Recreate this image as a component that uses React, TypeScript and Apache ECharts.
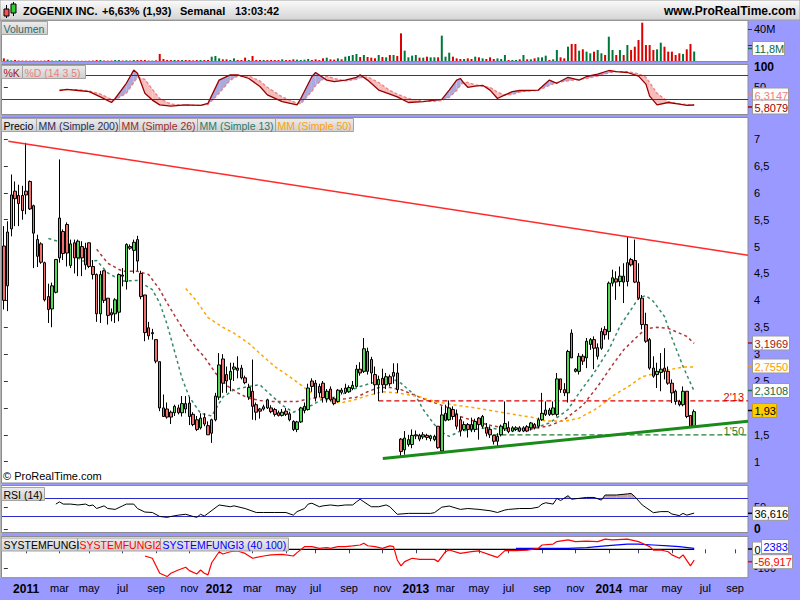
import React, { useEffect, useRef } from 'react';
import * as echarts from 'echarts';

const FONT = '"Liberation Sans", Arial, Helvetica, sans-serif';
const START = Date.UTC(2010, 10, 22);
const WEEK = 7 * 86400000;
const N_CAT = 201;
const MONTHS = ['ene', 'feb', 'mar', 'abr', 'may', 'jun', 'jul', 'ago', 'sep', 'oct', 'nov', 'dic'];

// weekly candles: [open, close, low, high]
const candles: number[][] = [
  [5.01, 4.0, 3.83, 5.38], [4.27, 5.27, 3.8, 5.47], [5.33, 5.96, 5.19, 6.34], [6.03, 5.89, 5.38, 6.21], [5.95, 5.8, 5.38, 6.15],
  [5.95, 5.67, 5.5, 6.13], [6.03, 5.96, 5.6, 6.93], [6.21, 5.7, 5.68, 6.23], [5.76, 5.25, 4.6, 5.78], [5.13, 4.82, 4.62, 5.22],
  [5.05, 4.71, 4.68, 5.08], [4.7, 4.01, 3.98, 4.72], [4.07, 3.83, 3.58, 4.31], [3.84, 4.27, 3.5, 4.33], [4.15, 4.76, 4.13, 4.77],
  [4.79, 5.53, 4.7, 6.62], [5.28, 4.87, 4.75, 5.32], [5.41, 4.88, 4.63, 5.45], [4.65, 5.05, 4.6, 5.13], [5.07, 4.79, 4.5, 5.13],
  [4.79, 5.1, 4.45, 5.13], [5.0, 4.79, 4.45, 5.1], [4.66, 4.97, 4.57, 5.07], [5.07, 4.63, 4.6, 5.07], [4.63, 4.48, 4.39, 4.75],
  [4.48, 3.75, 3.6, 4.5], [3.75, 4.48, 3.58, 4.55], [4.55, 4.0, 3.95, 4.57], [4.04, 3.72, 3.55, 4.04], [3.77, 3.73, 3.61, 3.85],
  [3.75, 4.01, 3.58, 4.04], [3.78, 4.48, 3.61, 4.5], [4.47, 4.45, 4.26, 4.6], [4.35, 5.04, 4.2, 5.06], [5.0, 4.97, 4.94, 5.04],
  [4.93, 5.08, 4.5, 5.13], [5.13, 4.73, 4.55, 5.2], [4.5, 4.07, 4.02, 4.55], [4.1, 3.4, 3.24, 4.1], [3.49, 3.34, 3.27, 3.6],
  [3.38, 3.4, 3.27, 3.47], [3.27, 2.87, 2.83, 3.27], [2.86, 2.0, 1.94, 2.86], [2.0, 1.84, 1.84, 2.25], [1.98, 1.83, 1.8, 2.1],
  [1.92, 1.83, 1.7, 1.95], [1.91, 2.03, 1.85, 2.06], [2.0, 1.91, 1.88, 2.06], [1.91, 2.08, 1.84, 2.22], [2.08, 1.98, 1.9, 2.22],
  [2.09, 1.84, 1.68, 2.2], [1.88, 1.69, 1.66, 1.92], [1.78, 1.6, 1.57, 1.85], [1.63, 1.81, 1.6, 1.9], [1.82, 1.7, 1.66, 1.9],
  [1.67, 1.5, 1.5, 1.75], [1.53, 1.78, 1.35, 1.8], [1.78, 2.22, 1.75, 2.28], [2.2, 2.8, 2.15, 3.02], [2.91, 2.46, 2.28, 3.0],
  [2.62, 2.5, 2.28, 2.77], [2.53, 2.68, 2.31, 2.84], [2.72, 2.76, 2.5, 2.84], [2.74, 2.7, 2.55, 2.96], [2.74, 2.56, 2.53, 2.8],
  [2.56, 2.47, 2.44, 2.6], [2.2, 2.38, 2.15, 2.45], [2.31, 2.03, 1.78, 2.9], [2.06, 1.92, 1.77, 2.1], [1.98, 1.94, 1.8, 2.0],
  [1.98, 2.02, 1.95, 2.06], [2.15, 2.0, 1.98, 2.17], [2.0, 1.93, 1.9, 2.05], [1.97, 1.88, 1.84, 2.0], [1.91, 1.86, 1.84, 1.95],
  [1.86, 1.92, 1.84, 1.98], [1.94, 1.88, 1.85, 2.0], [1.89, 1.78, 1.75, 1.93], [1.75, 1.6, 1.57, 1.77], [1.6, 1.74, 1.55, 1.76],
  [1.74, 2.0, 1.72, 2.02], [1.95, 2.03, 1.9, 2.1], [1.97, 2.37, 1.95, 2.45], [2.5, 2.4, 2.3, 2.55], [2.46, 2.19, 2.12, 2.52],
  [2.4, 2.28, 2.2, 2.45], [2.46, 2.19, 2.1, 2.5], [2.17, 2.31, 2.1, 2.35], [2.35, 2.15, 2.12, 2.4], [2.17, 2.08, 2.05, 2.2],
  [2.12, 2.33, 2.1, 2.35], [2.33, 2.29, 2.25, 2.37], [2.29, 2.37, 2.26, 2.45], [2.3, 2.38, 2.28, 2.42], [2.36, 2.42, 2.33, 2.5],
  [2.4, 2.72, 2.38, 2.8], [2.72, 2.65, 2.6, 2.85], [2.68, 3.1, 2.65, 3.3], [3.05, 2.68, 2.62, 3.12], [2.9, 2.65, 2.45, 2.95],
  [2.62, 2.43, 2.25, 2.77], [2.43, 2.53, 2.13, 2.6], [2.55, 2.43, 2.28, 2.73], [2.43, 2.58, 2.35, 2.65], [2.58, 2.45, 2.4, 2.62],
  [2.59, 2.66, 2.45, 2.83], [2.65, 2.34, 2.28, 2.83], [1.42, 1.19, 1.07, 1.44], [1.22, 1.44, 1.13, 1.57], [1.32, 1.41, 1.28, 1.5],
  [1.32, 1.49, 1.25, 1.6], [1.48, 1.5, 1.42, 1.58], [1.49, 1.42, 1.38, 1.52], [1.46, 1.5, 1.42, 1.55], [1.49, 1.45, 1.4, 1.52],
  [1.43, 1.48, 1.38, 1.5], [1.41, 1.47, 1.38, 1.5], [1.66, 1.26, 1.24, 1.66], [1.2, 1.87, 1.17, 2.03], [1.77, 1.9, 1.75, 2.06],
  [1.78, 2.0, 1.76, 2.14], [1.97, 1.84, 1.78, 2.03], [1.88, 1.66, 1.6, 1.97], [1.78, 1.57, 1.47, 1.84], [1.6, 1.69, 1.57, 1.75],
  [1.69, 1.6, 1.45, 1.72], [1.69, 1.6, 1.55, 1.82], [1.6, 1.75, 1.55, 1.8], [1.81, 1.69, 1.41, 1.83], [1.66, 1.84, 1.62, 1.87],
  [1.64, 1.53, 1.47, 1.72], [1.6, 1.5, 1.44, 1.66], [1.49, 1.38, 1.32, 1.5], [1.38, 1.47, 1.28, 1.53], [1.5, 1.66, 1.47, 1.69],
  [1.61, 1.71, 1.57, 2.12], [1.63, 1.56, 1.53, 1.75], [1.57, 1.63, 1.55, 1.66], [1.6, 1.63, 1.57, 1.66], [1.63, 1.57, 1.55, 1.66],
  [1.57, 1.63, 1.55, 1.66], [1.65, 1.57, 1.55, 1.68], [1.63, 1.72, 1.58, 1.74], [1.69, 1.63, 1.6, 1.72], [1.66, 1.78, 1.62, 1.82],
  [1.78, 1.9, 1.76, 2.28], [1.88, 1.96, 1.85, 2.12], [1.96, 1.88, 1.85, 2.0], [1.88, 2.0, 1.86, 2.12], [1.88, 2.54, 1.84, 2.65],
  [2.54, 2.34, 2.28, 2.54], [2.34, 2.28, 2.22, 2.46], [2.28, 3.05, 2.1, 3.08], [3.39, 2.93, 2.93, 3.46], [2.72, 2.68, 2.66, 2.74],
  [2.68, 2.96, 2.62, 3.02], [2.96, 2.87, 2.8, 3.0], [2.93, 3.24, 2.74, 3.3], [3.18, 3.27, 3.08, 3.3], [3.27, 3.11, 2.72, 3.33],
  [2.96, 3.12, 2.9, 3.2], [3.11, 3.42, 3.08, 3.49], [3.46, 3.36, 3.27, 3.52], [3.42, 4.32, 3.27, 4.35], [4.32, 4.42, 4.26, 4.57],
  [4.4, 4.34, 4.01, 4.54], [4.35, 4.45, 4.26, 4.63], [4.45, 4.34, 3.95, 4.69], [4.35, 4.7, 4.26, 5.19], [4.76, 4.66, 4.63, 4.79],
  [4.74, 4.34, 4.32, 5.13], [4.34, 4.04, 4.01, 4.69], [4.04, 3.55, 3.46, 4.1], [3.55, 3.24, 3.21, 3.77], [3.27, 2.74, 2.71, 3.3],
  [2.74, 2.59, 2.56, 2.96], [2.62, 2.68, 2.37, 2.84], [2.66, 2.72, 2.31, 3.02], [2.74, 2.68, 2.53, 3.11], [2.68, 2.46, 2.43, 2.77],
  [2.46, 2.28, 2.09, 2.53], [2.31, 2.12, 2.06, 2.34], [2.12, 2.06, 2.03, 2.15], [2.06, 2.31, 2.03, 2.4], [2.31, 1.84, 1.81, 2.31],
  [1.86, 1.66, 1.65, 1.86], [1.66, 1.93, 1.65, 1.97],
];

// weekly volume, millions
const volumes: number[] = [
  3.3, 2.0, 0.8, 1.2, 0.6, 0.5, 0.5, 0.4, 0.6, 0.4, 0.4, 0.6, 1.2, 0.6, 0.4, 1.2, 0.6, 0.5, 0.4, 0.4,
  0.4, 0.3, 0.3, 0.4, 0.6, 1.2, 1.2, 0.6, 0.5, 0.6, 1.2, 1.2, 0.6, 0.8, 0.5, 1.2, 1.2, 1.2, 1.3, 0.6,
  0.5, 0.8, 8.8, 2.5, 1.3, 1.2, 1.3, 1.2, 1.2, 1.3, 1.2, 0.8, 1.2, 1.3, 1.2, 1.3, 5.4, 6.3, 3.3, 2.1,
  2.1, 1.3, 3.3, 1.3, 1.3, 4.2, 1.3, 6.3, 1.3, 1.3, 1.3, 1.2, 1.3, 1.2, 1.2, 2.1, 1.2, 1.3, 2.1, 1.7,
  1.3, 1.7, 2.5, 1.3, 2.1, 1.2, 3.3, 4.2, 2.1, 1.7, 3.3, 2.1, 5.4, 6.3, 7.5, 8.8, 5.0, 7.5, 5.0, 4.2,
  3.3, 7.5, 5.0, 4.6, 7.5, 7.5, 6.3, 34.6, 12.9, 4.6, 6.7, 7.5, 4.2, 4.2, 5.4, 4.6, 4.6, 4.6, 31.7, 5.4,
  10.4, 5.4, 3.3, 2.5, 2.5, 3.3, 2.5, 5.4, 4.6, 3.3, 2.5, 4.6, 2.5, 3.3, 2.5, 7.5, 1.3, 1.3, 1.3, 2.1,
  7.5, 2.1, 2.1, 3.3, 4.6, 4.6, 6.7, 1.3, 2.1, 13.8, 4.6, 3.3, 17.9, 21.3, 21.3, 12.9, 14.6, 11.7, 9.6, 11.7,
  13.8, 9.6, 7.5, 30.4, 13.8, 7.5, 13.8, 7.5, 20, 13.8, 17.9, 26.3, 47.9, 20, 20, 13.8, 14.6, 22.9, 17.9, 11.7,
  11.7, 7.5, 9.6, 8.8, 14.6, 21.3, 11.8,
];

// moving averages (week index, price)
const ma13Idx = [12, 16, 21, 25, 28, 32, 36, 40, 42, 44, 46, 48, 50, 53, 56, 59, 62, 66, 69, 71, 75, 78, 80, 83, 86, 89, 92, 96, 99, 102, 105, 107, 111, 113, 116, 118, 120, 123, 127, 130, 134, 138, 142, 147, 152, 155, 159, 163, 166, 169, 171, 173, 175, 178, 180, 183, 186];
const ma13Val = [5.15, 5.07, 4.73, 4.74, 4.51, 4.36, 4.37, 4.2, 3.95, 3.55, 3.05, 2.55, 2.2, 1.9, 1.85, 2.2, 2.34, 2.4, 2.43, 2.3, 2.05, 1.92, 1.98, 2.05, 2.17, 2.2, 2.28, 2.4, 2.46, 2.52, 2.53, 2.46, 2.22, 1.97, 1.69, 1.55, 1.47, 1.57, 1.6, 1.63, 1.6, 1.57, 1.6, 1.72, 1.97, 2.28, 2.65, 3.08, 3.52, 3.83, 4.04, 4.09, 3.98, 3.7, 3.3, 2.77, 2.31];
const ma26Idx = [25, 28, 32, 36, 39, 42, 44, 46, 49, 52, 54, 57, 60, 63, 66, 69, 72, 76, 79, 81, 85, 88, 92, 95, 98, 101, 104, 107, 112, 115, 120, 123, 127, 132, 138, 143, 147, 151, 156, 160, 164, 167, 171, 173, 176, 179, 181, 184, 186];
const ma26Val = [4.95, 4.69, 4.54, 4.54, 4.48, 4.2, 3.95, 3.72, 3.39, 3.1, 2.95, 2.65, 2.42, 2.28, 2.18, 2.14, 2.12, 2.12, 2.12, 2.15, 2.2, 2.15, 2.17, 2.2, 2.3, 2.38, 2.38, 2.34, 2.2, 2.12, 2.0, 1.84, 1.75, 1.66, 1.6, 1.62, 1.67, 1.78, 2.05, 2.4, 2.8, 3.08, 3.35, 3.47, 3.5, 3.48, 3.42, 3.33, 3.2];
const ma50Idx = [49, 52, 55, 59, 62, 66, 70, 73, 77, 80, 84, 88, 91, 94, 98, 102, 106, 112, 116, 121, 127, 132, 138, 142, 146, 151, 155, 160, 164, 169, 172, 176, 180, 183, 186];
const ma50Val = [4.22, 3.98, 3.68, 3.5, 3.39, 3.2, 2.95, 2.77, 2.58, 2.43, 2.22, 2.12, 2.1, 2.14, 2.23, 2.3, 2.28, 2.21, 2.12, 2.06, 2.0, 1.94, 1.87, 1.83, 1.76, 1.75, 1.81, 2.0, 2.22, 2.43, 2.58, 2.65, 2.72, 2.76, 2.76];

// drawn lines (week index, price)
const resistIdx = [1.2, 200.5];
const resistVal = [6.96, 4.84];
const supportIdx = [102.1, 200.5];
const supportVal = [1.06, 1.75];
const level213Idx = [100.9, 200.5];
const level213Val = [2.13, 2.13];
const level150Idx = [131.9, 200.5];
const level150Val = [1.5, 1.5];

// stochastic %K / %D (14 3 5)
const stochIdx = [15, 17, 20, 23, 26, 29, 30, 33, 35, 36, 38, 40, 42, 45, 49, 53, 55, 58, 61, 63, 66, 69, 71, 75, 79, 80, 83, 84, 87, 89, 92, 95, 96, 98, 101, 104, 106, 109, 113, 116, 118, 120, 122, 123, 124, 125, 127, 129, 131, 133, 135, 137, 139, 141, 144, 147, 149, 152, 155, 157, 160, 163, 165, 168, 171, 173, 174, 176, 179, 182, 184, 186];
const stochK = [42, 45, 42, 39, 26, 12, 22, 60, 93, 85, 35, 18, 6, 3, 6, 5, 10, 68, 81, 81, 72, 52, 31, 14, 6, 22, 77, 87, 68, 64, 68, 75, 81, 68, 43, 33, 26, 12, 14, 18, 20, 43, 68, 72, 60, 50, 53, 55, 43, 22, 31, 39, 42, 42, 43, 68, 60, 75, 68, 77, 83, 92, 89, 87, 78, 58, 28, 6, 12, 8, 5, 5.8];
const stochD = [43, 44, 44, 41, 33, 20, 19, 35, 62, 75, 70, 45, 22, 8, 5, 5, 7, 35, 68, 78, 78, 66, 50, 26, 10, 9, 40, 55, 78, 72, 66, 70, 74, 76, 62, 42, 33, 22, 15, 15, 17, 25, 42, 55, 63, 62, 56, 53, 50, 38, 30, 32, 38, 41, 42, 55, 62, 66, 70, 72, 78, 86, 89, 89, 84, 75, 62, 35, 14, 9, 7, 6.3];

// RSI (14)
const rsiIdx = [14, 15, 16, 18, 20, 22, 23, 24, 25, 27, 28, 30, 32, 33, 35, 36, 38, 40, 42, 44, 45, 47, 49, 51, 52, 53, 54, 55, 58, 61, 62, 65, 68, 70, 73, 76, 78, 79, 81, 82, 83, 85, 86, 88, 90, 92, 94, 95, 96, 97, 99, 101, 103, 104, 106, 109, 115, 116, 118, 120, 123, 125, 128, 131, 133, 135, 136, 139, 142, 144, 145, 146, 148, 149, 150, 152, 153, 155, 157, 159, 161, 162, 165, 168, 169, 170, 172, 175, 177, 179, 180, 182, 183, 184, 186];
const rsiVal = [57, 62, 57, 57, 55, 57, 53, 55, 47, 53, 47, 45, 53, 57, 57, 47, 39, 38, 29, 27, 29, 32, 34, 29, 27, 34, 30, 36, 55, 51, 53, 47, 38, 38, 38, 38, 32, 40, 47, 57, 59, 51, 53, 55, 53, 55, 55, 62, 68, 62, 51, 51, 55, 51, 34, 36, 36, 37.6, 50, 52.6, 45, 47, 45, 42, 38, 43.6, 45, 47, 47, 50, 57, 60, 57, 70, 65, 76, 68, 70, 72, 72, 66, 77.5, 77.5, 80, 81, 74, 55, 37.6, 40, 40, 34.5, 31, 36, 32, 36.6];

// SYSTEMFUNGI indicators
const fungiIdx = [76, 186];
const fungiVal = [0, 0];
const fungi2Idx = [38, 40, 42, 44, 45, 47, 49, 50, 52, 53, 54, 55, 56, 58, 59, 61, 63, 65, 67, 70, 72, 75, 78, 79, 81, 83, 85, 87, 88, 90, 92, 94, 96, 97, 98, 100, 102, 104, 105, 106, 107, 108, 110, 112, 116, 117, 119, 120, 123, 126, 128, 131, 133, 135, 138, 141, 144, 145, 148, 149, 152, 154, 157, 160, 162, 164, 168, 171, 172, 174, 175, 177, 179, 180, 182, 183, 185, 186];
const fungi2Val = [-36, -48, -128, -146, -128, -111, -96, -114, -132, -111, -128, -137, -72, -13, -25, -13, -9, -22, -48, -36, -30, -27, -36, -18, 14, 14, 5, 9, 5, 14, 14, 18, 23, 32, 19, 14, 5, 18, 14, -57, -89, -66, -48, -54, -54, -66, -13, -4, -22, -13, -9, -30, -43, -7, -7, -4, 5, 23, 28, 41, 50, 41, 44, 41, 54, 50, 54, 41, 32, 14, -4, -4, -13, -30, -48, -30, -89, -57];
const fungi3Idx = [138, 144, 152, 157, 162, 168, 171, 175, 179, 182, 186];
const fungi3Val = [5, 5, 5, 9, 18, 28, 28, 23, 18, 14, 5];

// axis tick values (labels fully hidden under the value boxes are left out)
const volTicks = [20, 40];
const stochTicks = [50, 100];
const priceTicks = [1, 1.5, 2, 2.5, 3, 3.5, 4, 4.5, 5, 5.5, 6, 6.5, 7];
const priceLabels = [1, 1.5, 2.5, 3, 3.5, 4, 4.5, 5, 5.5, 6, 6.5, 7];
const rsiTicks = [0, 50];
const fungiTicks = [-100];

// texts
const TITLE_PARTS = [
  { x: 23, text: 'ZOGENIX INC.' },
  { x: 102, text: '+6,63% (1,93)' },
  { x: 180, text: 'Semanal' },
  { x: 235, text: '13:03:42' },
];
const SITE = 'www.ProRealTime.com';

const valueBoxes = [
  { x: 752.5, cy: 48.5, text: '11,8M', color: '#0b6b4b', w: 32 },
  { x: 752.5, cy: 95, text: '6,3147', color: '#f07f7f', w: 36 },
  { x: 752.5, cy: 107, text: '5,8079', color: '#a00000', w: 36 },
  { x: 752.5, cy: 343, text: '3,1969', color: '#a01818', w: 37 },
  { x: 752.5, cy: 366, text: '2,7550', color: '#ff9900', w: 37 },
  { x: 752.5, cy: 390.5, text: '2,3108', color: '#1a6a4a', w: 37 },
  { x: 752.5, cy: 410.5, text: '1,93', color: '#000000', w: 24, bg: '#ffcc00', border: '#c9a000' },
  { x: 752.5, cy: 513.3, text: '36,616', color: '#000000', w: 36 },
  { x: 761.5, cy: 546.5, text: '2383', color: '#0000ff', w: 27 },
  { x: 752.5, cy: 549, text: '0', color: '#000000', w: 9 },
  { x: 752.5, cy: 561.7, text: '-56,917', color: '#ff0000', w: 40 },
];

const legendRows = [
  { y: 21, items: [{ x: 1, w: 46, text: 'Volumen', color: '#2a6a6a' }] },
  { y: 65, items: [{ x: 1, w: 21, text: '%K', color: '#a01818' }, { x: 22, w: 63, text: '%D (14 3 5)', color: '#ee7f7f' }] },
  {
    y: 118, items: [
      { x: 1, w: 35, text: 'Precio', color: '#000000' },
      { x: 36, w: 83, text: 'MM (Simple 200)', color: '#2a2a5a' },
      { x: 119, w: 78, text: 'MM (Simple 26)', color: '#9a2a2a' },
      { x: 197, w: 78, text: 'MM (Simple 13)', color: '#2a7a6a' },
      { x: 275, w: 78, text: 'MM (Simple 50)', color: '#ffa010' },
    ],
  },
  { y: 487, items: [{ x: 1, w: 43, text: 'RSI (14)', color: '#000000' }] },
  {
    y: 537.5, items: [
      { x: 1, w: 76, text: 'SYSTEMFUNGI', color: '#000000' },
      { x: 77, w: 83, text: 'SYSTEMFUNGI2', color: '#ff0000' },
      { x: 160, w: 128, text: 'SYSTEMFUNGI3 (40 100)', color: '#0000ff' },
    ],
  },
];

const PANELS = [
  { top: 21, height: 40, ry: 20.5, rh: 41 },
  { top: 64.5, height: 50, ry: 64.5, rh: 50 },
  { top: 117.5, height: 365.5, ry: 117.5, rh: 365.5 },
  { top: 485.5, height: 47, ry: 485.5, rh: 47 },
  { top: 536.5, height: 41.2, ry: 536.5, rh: 41.2 },
];

const UP = '#55d855';
const DOWN = '#f07070';
const VOL_UP = '#00783a';
const VOL_DOWN = '#dd0000';
const BLUE = '#2a2ac8';

function buildOption() {
  const dates = Array.from({ length: N_CAT }, (_, i) => new Date(START + i * WEEK));
  const categories = dates.map((d) => d.toISOString().slice(0, 10));
  const labelFlags = dates.map(
    (d, i) => i > 0 && d.getUTCMonth() !== dates[i - 1].getUTCMonth() && d.getUTCMonth() % 2 === 0
  );
  const showAt = (index: number) => !!labelFlags[index];

  const grid = PANELS.map((p) => ({ left: 2, right: 52, top: p.top, height: p.height }));

  const catAxis = (gridIndex: number, visible: boolean) => ({
    type: 'category',
    gridIndex,
    data: categories,
    boundaryGap: true,
    show: visible,
    axisLine: { show: false },
    splitLine: { show: false },
    axisTick: visible
      ? { show: true, interval: showAt, alignWithLabel: true, length: 4, lineStyle: { color: '#404060' } }
      : { show: false },
    axisLabel: visible
      ? {
          show: true,
          interval: showAt,
          margin: 5,
          formatter: (value: string) => {
            const [y, m] = value.split('-').map(Number);
            return m === 1 ? `{y|${y}}` : `{m|${MONTHS[m - 1]}}`;
          },
          rich: {
            y: { fontWeight: 'bold', fontSize: 12, color: '#000', fontFamily: FONT },
            m: { fontSize: 11, color: '#000', fontFamily: FONT },
          },
        }
      : { show: false },
  });
  const valAxis = (gridIndex: number) => ({
    type: 'value', gridIndex, min: -0.5, max: N_CAT - 0.5, show: false, splitLine: { show: false },
  });

  const xAxis = [
    catAxis(0, false), // 0 volume bars
    valAxis(1), // 1 stoch
    catAxis(2, false), // 2 candles
    valAxis(2), // 3 price lines
    valAxis(3), // 4 rsi
    catAxis(4, true), // 5 date labels
    valAxis(4), // 6 fungi lines
  ];

  const yAx = (
    gridIndex: number, min: number, max: number, ticks: number[], labels: number[],
    fmt: (v: number) => string, rich?: any
  ) => ({
    type: 'value',
    gridIndex,
    position: 'right',
    min,
    max,
    splitLine: { show: false },
    axisLine: { show: false },
    axisTick: { show: true, length: 4, customValues: ticks, lineStyle: { color: '#333' } },
    axisLabel: {
      show: true, customValues: labels, formatter: fmt, color: '#000', fontSize: 11, margin: 6, fontFamily: FONT,
      rich: rich || {},
    },
  });
  const comma = (v: number) => String(v).replace('.', ',');
  const boldRich = { b: { fontWeight: 'bold', fontSize: 12, color: '#000', fontFamily: FONT } };
  const yAxis = [
    yAx(0, 0, 50, volTicks, volTicks, (v) => `${v}M`),
    yAx(1, -18, 107, stochTicks, stochTicks, (v) => (v === 100 ? '{b|100}' : comma(v)), boldRich),
    yAx(2, 0.604, 7.4, priceTicks, priceLabels, comma),
    yAx(3, -7.2, 99, rsiTicks, rsiTicks, (v) => (v === 0 ? '{b|0}' : comma(v)), boldRich),
    yAx(4, -152, 68.4, fungiTicks, fungiTicks, comma),
  ];

  const lineS = (xi: number, yi: number, idx: number[], val: number[], color: string, width: number, type: any = 'solid', z = 3) => ({
    type: 'line', xAxisIndex: xi, yAxisIndex: yi, data: idx.map((x, k) => [x, val[k]]),
    symbol: 'none', silent: true, z, lineStyle: { color, width, type },
  });

  const stochSegs = stochIdx.slice(0, -1).map((x, k) => [x, stochK[k], stochD[k], stochIdx[k + 1], stochK[k + 1], stochD[k + 1]]);
  const rsiSegs = rsiIdx.slice(0, -1).map((x, k) => [x, rsiVal[k], rsiIdx[k + 1], rsiVal[k + 1]]);

  const series: any[] = [
    {
      type: 'bar', xAxisIndex: 0, yAxisIndex: 0, barWidth: 2, silent: true,
      data: volumes.map((v, i) => ({
        value: v,
        itemStyle: { color: candles[i][1] >= candles[i][0] ? VOL_UP : VOL_DOWN },
      })),
    },
    {
      type: 'custom', xAxisIndex: 1, yAxisIndex: 1, silent: true, z: 2,
      data: stochSegs,
      encode: { x: [0, 3], y: [1, 2, 4, 5] },
      renderItem: (_p: any, api: any) => {
        const x0 = api.value(0), k0 = api.value(1), d0 = api.value(2);
        const x1 = api.value(3), k1 = api.value(4), d1 = api.value(5);
        const P = (x: number, y: number) => api.coord([x, y]);
        const poly = (pts: any[], up: boolean) => ({
          type: 'polygon', shape: { points: pts }, style: { fill: up ? '#aaaadf' : '#f6bcbc' },
        });
        const a = k0 - d0, b = k1 - d1;
        if (a * b < 0) {
          const t = a / (a - b);
          const xc = x0 + t * (x1 - x0), yc = k0 + t * (k1 - k0);
          return {
            type: 'group',
            children: [poly([P(x0, k0), P(xc, yc), P(x0, d0)], a > 0), poly([P(xc, yc), P(x1, k1), P(x1, d1)], b > 0)],
          };
        }
        return { type: 'group', children: [poly([P(x0, k0), P(x1, k1), P(x1, d1), P(x0, d0)], a + b > 0)] };
      },
    },
    {
      ...lineS(1, 1, stochIdx, stochD, '#ee8080', 1.3, [3, 2], 4),
    },
    {
      ...lineS(1, 1, stochIdx, stochK, '#990000', 1.3, 'solid', 5),
      markLine: {
        silent: true, symbol: 'none', label: { show: false },
        lineStyle: { color: BLUE, type: 'solid', width: 1 },
        data: [{ yAxis: 80 }, { yAxis: 20 }],
      },
    },
    {
      type: 'candlestick', xAxisIndex: 2, yAxisIndex: 2, data: candles, barWidth: 3, silent: true, z: 4,
      itemStyle: { color: UP, color0: DOWN, borderColor: '#000', borderColor0: '#000', borderWidth: 1 },
    },
    lineS(3, 2, ma13Idx, ma13Val, '#3a8a6a', 1.5, [3, 3], 3),
    lineS(3, 2, ma26Idx, ma26Val, '#b03838', 1.5, [3, 3], 3),
    lineS(3, 2, ma50Idx, ma50Val, '#ffa500', 1.5, [3, 3], 3),
    lineS(3, 2, level213Idx, level213Val, '#e00000', 1.2, [5, 3], 3),
    lineS(3, 2, level150Idx, level150Val, '#1f7f2f', 1.2, [5, 3], 3),
    lineS(3, 2, resistIdx, resistVal, '#ff2a2a', 1.5, 'solid', 6),
    lineS(3, 2, supportIdx, supportVal, '#1a8a1a', 3, 'solid', 6),
    {
      type: 'custom', xAxisIndex: 4, yAxisIndex: 3, silent: true, z: 2,
      data: rsiSegs,
      encode: { x: [0, 2], y: [1, 3] },
      renderItem: (_p: any, api: any) => {
        const x0 = api.value(0), v0 = api.value(1), x1 = api.value(2), v1 = api.value(3);
        const T = 70;
        if (v0 <= T && v1 <= T) return { type: 'group', children: [] };
        let pts: number[][];
        if (v0 >= T && v1 >= T) pts = [[x0, T], [x0, v0], [x1, v1], [x1, T]];
        else {
          const t = (T - v0) / (v1 - v0);
          const xc = x0 + t * (x1 - x0);
          pts = v0 > T ? [[x0, T], [x0, v0], [xc, T]] : [[xc, T], [x1, v1], [x1, T]];
        }
        return { type: 'polygon', shape: { points: pts.map((q) => api.coord(q)) }, style: { fill: '#c8a2a2' } };
      },
    },
    {
      ...lineS(4, 3, rsiIdx, rsiVal, '#000000', 1, 'solid', 5),
      markLine: {
        silent: true, symbol: 'none', label: { show: false },
        lineStyle: { color: BLUE, type: 'solid', width: 1 },
        data: [{ yAxis: 70 }, { yAxis: 30 }],
      },
    },
    lineS(6, 4, fungiIdx, fungiVal, '#000000', 1.2, 'solid', 3),
    lineS(6, 4, fungi3Idx, fungi3Val, '#0000ff', 1.2, 'solid', 4),
    lineS(6, 4, fungi2Idx, fungi2Val, '#ff0000', 1.2, 'solid', 5),
  ];

  const g: any[] = [];
  const txt = (x: number, y: number, text: string, fill: string, font: string, align = 'left', z = 60) => ({
    type: 'text', z, silent: true,
    style: { x, y, text, fill, font, align, verticalAlign: 'middle', textAlign: align, textVerticalAlign: 'middle' },
  });

  // title bar
  g.push({
    type: 'rect', z: 1, silent: true, shape: { x: 0, y: 0, width: 800, height: 20 },
    style: {
      fill: { type: 'linear', x: 0, y: 0, x2: 0, y2: 1, colorStops: [{ offset: 0, color: '#fbfbfb' }, { offset: 1, color: '#d4d4d4' }] },
      stroke: '#a0a0a0', lineWidth: 1,
    },
  });
  // small candle icon
  g.push({ type: 'line', z: 2, silent: true, shape: { x1: 6.5, y1: 5, x2: 6.5, y2: 18 }, style: { stroke: '#000', lineWidth: 1 } });
  g.push({ type: 'rect', z: 3, silent: true, shape: { x: 4, y: 9, width: 5, height: 7 }, style: { fill: '#ee5555', stroke: '#000', lineWidth: 1 } });
  g.push({ type: 'line', z: 2, silent: true, shape: { x1: 13.5, y1: 2, x2: 13.5, y2: 16 }, style: { stroke: '#000', lineWidth: 1 } });
  g.push({ type: 'rect', z: 3, silent: true, shape: { x: 11, y: 4, width: 5, height: 9 }, style: { fill: '#33cc33', stroke: '#000', lineWidth: 1 } });
  TITLE_PARTS.forEach((t) => g.push(txt(t.x, 10.5, t.text, '#000', `bold 11px ${FONT}`, 'left', 5)));
  g.push(txt(796, 10.5, SITE, '#000', `bold 12px ${FONT}`, 'right', 5));

  // left border
  g.push({ type: 'rect', z: 0, silent: true, shape: { x: 0, y: 20, width: 2, height: 558 }, style: { fill: '#b4b4b4' } });

  // panels
  PANELS.forEach((p) => {
    g.push({
      type: 'rect', z: 0, silent: true, shape: { x: 1.5, y: p.ry, width: 746.5, height: p.rh },
      style: { fill: '#ffffff', stroke: '#8c8c8c', lineWidth: 1 },
    });
  });

  // legend boxes
  legendRows.forEach((row) => {
    row.items.forEach((it) => {
      g.push({
        type: 'rect', z: 50, silent: true, shape: { x: it.x + 0.5, y: row.y + 0.5, width: it.w, height: 13 },
        style: {
          fill: { type: 'linear', x: 0, y: 0, x2: 0, y2: 1, colorStops: [{ offset: 0, color: '#ececec' }, { offset: 1, color: '#cfcfcf' }] },
          stroke: '#a4a4a4', lineWidth: 1,
        },
      });
      g.push(txt(it.x + 2.5, row.y + 7.5, it.text, it.color, `10.5px ${FONT}`, 'left', 51));
    });
  });

  // copyright
  g.push(txt(3, 476, '© ProRealTime.com', '#000', `11px ${FONT}`, 'left', 50));
  // level labels
  g.push(txt(744, 397, "2'13", '#e00000', `11px ${FONT}`, 'right', 50));
  g.push(txt(744, 430.5, "1'50", '#1f7f2f', `11px ${FONT}`, 'right', 50));

  // value boxes on the right scale
  valueBoxes.forEach((b) => {
    if (b.x < 753) {
      g.push({
        type: 'line', z: 90, silent: true, shape: { x1: 748, y1: b.cy, x2: 752, y2: b.cy },
        style: { stroke: b.color, lineWidth: 1.5 },
      });
    }
    g.push({
      type: 'rect', z: 90, silent: true, shape: { x: b.x, y: b.cy - 7, width: b.w, height: 14 },
      style: { fill: b.bg || '#fcfcfc', stroke: b.border || '#9a9a9a', lineWidth: 1 },
    });
    g.push(txt(b.x + 2, b.cy + 0.5, b.text, b.color, `11px ${FONT}`, 'left', 91));
  });

  return {
    animation: false,
    backgroundColor: '#9999ff',
    grid,
    xAxis,
    yAxis,
    series,
    graphic: { elements: g },
  };
}

export default function App() {
  const ref = useRef<HTMLDivElement>(null);
  useEffect(() => {
    document.body.style.margin = '0';
    const chart = echarts.init(ref.current as HTMLDivElement, undefined, { renderer: 'svg' });
    chart.setOption(buildOption() as any);
    return () => chart.dispose();
  }, []);
  return <div ref={ref} style={{ position: 'absolute', left: 0, top: 0, width: 800, height: 600 }} />;
}
